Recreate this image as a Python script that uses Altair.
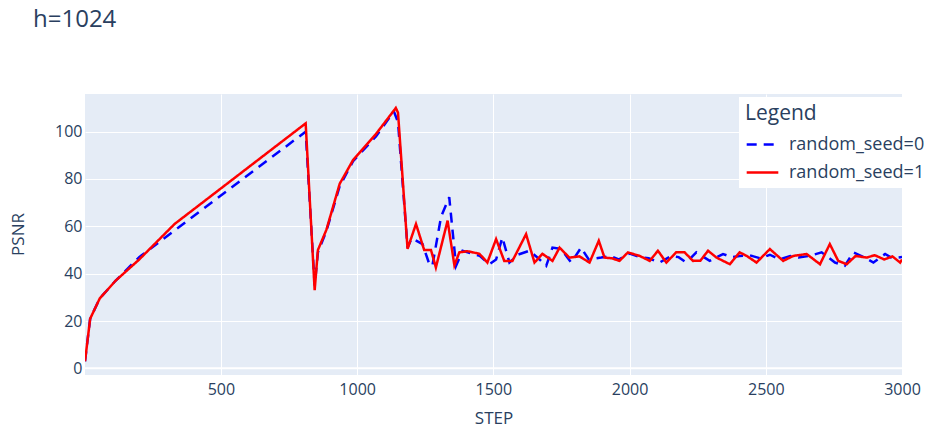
import altair as alt
import pandas as pd

# ---- data ----
series_names = ["random_seed=0", "random_seed=1"]

steps_seed0 = [1, 20, 55, 113, 200, 811, 844, 856, 887, 936, 985, 1069, 1135, 1150,
               1185, 1200, 1240, 1265, 1276, 1308, 1338, 1363, 1387, 1420,
               1450, 1485, 1510, 1533, 1559, 1590, 1632, 1665, 1694, 1717,
               1749, 1786, 1822, 1850, 1896, 1930, 1960, 2000, 2040, 2070,
               2110, 2153, 2180, 2208, 2245, 2294, 2343, 2375, 2404, 2440,
               2480, 2515, 2551, 2590, 2620, 2660, 2705, 2754, 2790, 2821,
               2860, 2895, 2938, 2965, 3000]
psnr_seed0 = [3, 21, 29.5, 37, 47, 100, 35, 49, 58, 77, 87.5, 98, 108.5, 104,
              51, 55, 52.5, 44, 43.3, 64, 72.3, 43.3, 49.7, 48.5,
              47.5, 44, 46, 55.3, 44.7, 48, 49.7, 46.5, 43.3, 51,
              50.4, 44.7, 51, 46, 46.8, 47.5, 46, 48.5, 47, 46.5,
              44.7, 47.5, 47, 44.7, 49, 45.4, 48.3, 47, 47.5, 47.8,
              46.5, 48, 46, 47.5, 46.8, 47.5, 49, 44.7, 43.3, 49,
              47, 44.7, 48.3, 46.5, 47]

steps_seed1 = [1, 20, 55, 113, 200, 330, 811, 844, 856, 887, 936, 985, 1069, 1142, 1150,
               1185, 1216, 1246, 1271, 1289, 1332, 1357, 1375, 1405, 1449,
               1478, 1510, 1540, 1570, 1620, 1651, 1680, 1717, 1743, 1779,
               1816, 1853, 1887, 1908, 1935, 1963, 1994, 2037, 2074, 2104,
               2135, 2171, 2202, 2233, 2260, 2288, 2319, 2368, 2404, 2430,
               2466, 2515, 2564, 2601, 2650, 2699, 2735, 2766, 2797, 2830,
               2870, 2900, 2935, 2965, 2993, 3000]
psnr_seed1 = [3, 21, 29.5, 37, 46, 61, 103.5, 33, 50, 58.5, 78, 88, 99, 110, 108,
              50.5, 61, 50, 50, 42.6, 62.4, 43.5, 49, 49.5, 48.4,
              44.7, 54.6, 45.4, 45.4, 56.7, 44.7, 48.4, 45.4, 51, 46.8,
              47.3, 44.7, 53.9, 46.8, 46.5, 45.4, 49, 47.5, 45.4, 49.7,
              44.7, 49, 49, 45.4, 45.5, 49.7, 46.8, 44, 49, 47.5,
              44.7, 50.4, 45.4, 47.5, 48.3, 44, 52.5, 45.4, 44, 47.5,
              46.8, 47.8, 46, 47.3, 44.7, 46]

x_ticks = [500, 1000, 1500, 2000, 2500, 3000]
y_ticks = [0, 20, 40, 60, 80, 100]

df = pd.concat([
    pd.DataFrame({"STEP": steps_seed0, "PSNR": psnr_seed0, "series": series_names[0]}),
    pd.DataFrame({"STEP": steps_seed1, "PSNR": psnr_seed1, "series": series_names[1]}),
], ignore_index=True)

FONT = "Open Sans"
TXT = "#2a3f5f"

x_scale = alt.Scale(domain=[1, 3000], nice=False, zero=False)
y_scale = alt.Scale(domain=[-2.8, 115.9], nice=False, zero=False)

x_axis = alt.Axis(values=x_ticks, format="d", title="STEP", titleY=43, titleBaseline="middle",
                  labelPadding=6, labelFlush=False)
y_axis = alt.Axis(values=y_ticks, format="d", title="PSNR", titleX=-67, titleY=140,
                  titleBaseline="middle", labelPadding=3)

legend = alt.Legend(
    title="Legend", orient="none", legendX=654, legendY=3,
    fillColor="white", padding=6, symbolType="stroke", symbolSize=1000,
    symbolStrokeWidth=2.5, labelFontSize=18, titleFontSize=21,
    titleFontWeight="normal", labelFont=FONT, titleFont=FONT,
    labelColor=TXT, titleColor=TXT, rowPadding=1, titlePadding=3,
    labelOffset=9,
)

lines = alt.Chart(df).mark_line(strokeWidth=2.5, clip=True).encode(
    x=alt.X("STEP:Q", scale=x_scale, axis=x_axis),
    y=alt.Y("PSNR:Q", scale=y_scale, axis=y_axis),
    color=alt.Color("series:N", scale=alt.Scale(domain=series_names, range=["blue", "red"]),
                    legend=legend),
    strokeDash=alt.StrokeDash("series:N",
                              scale=alt.Scale(domain=series_names, range=[[10, 7], [1, 0]]),
                              legend=legend),
    order=alt.Order("STEP:Q"),
)

zero = alt.Chart(pd.DataFrame({"PSNR": [0]})).mark_rule(color="white", strokeWidth=2).encode(
    y=alt.Y("PSNR:Q", scale=y_scale, axis=y_axis)
)

chart = alt.layer(zero, lines).properties(
    width=817, height=281,
    autosize=alt.AutoSizeParams(type="none"),
    padding={"left": 85, "top": 94, "right": 38, "bottom": 55},
    background="white",
    title=alt.TitleParams("h=1024", anchor="start", frame="group", offset=43, dx=-52,
                          fontSize=24, font=FONT, color=TXT, fontWeight="normal",
                          baseline="alphabetic"),
).configure_view(
    fill="#E5ECF6", strokeWidth=0
).configure_axis(
    domain=False, ticks=False, grid=True, gridColor="white", gridWidth=1,
    labelFont=FONT, labelFontSize=16, labelColor=TXT,
    titleFont=FONT, titleFontSize=17, titleFontWeight="normal", titleColor=TXT,
)

chart.save("out.html", embed_options={"renderer": "svg", "actions": False})
